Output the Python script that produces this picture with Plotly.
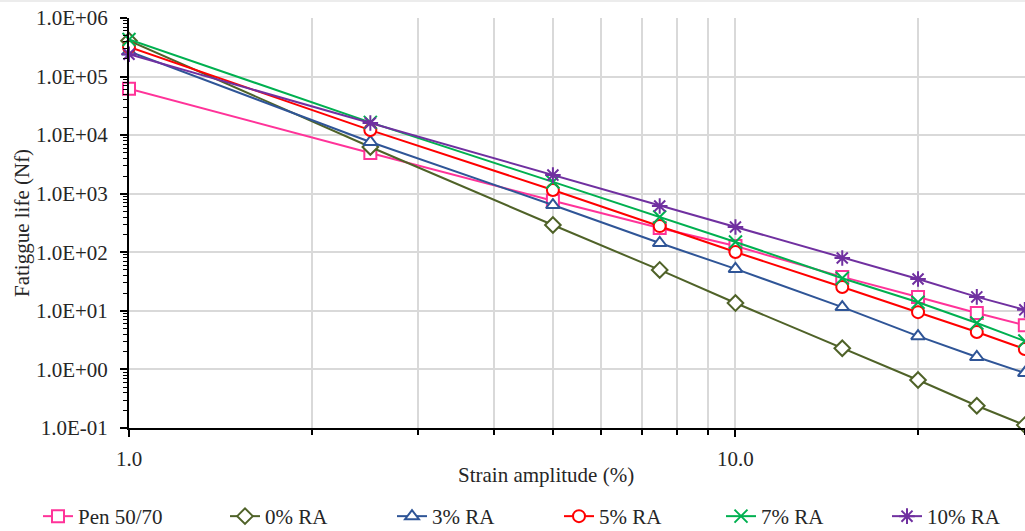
import math
import plotly.graph_objects as go

# ---- data ----
strain = [1, 2.5, 5, 7.5, 10, 15, 20, 25, 30]

pen_50_70 = [62000, 4950, 760, 260, 128, 38, 17.3, 9.2, 5.7]
ra_0 = [410000, 6270, 292, 50, 13.6, 2.3, 0.66, 0.24, 0.112]
ra_3 = [268000, 7640, 640, 144, 52, 11.6, 3.7, 1.63, 0.87]
ra_5 = [320000, 12200, 1157, 280, 101, 25.5, 9.5, 4.36, 2.23]
ra_7 = [430000, 16500, 1590, 400, 150, 36, 14, 6.2, 3.05]
ra_10 = [240000, 16100, 2080, 617, 270, 80, 35, 17.3, 10.4]

series_names = ["Pen 50/70", "0% RA", "3% RA", "5% RA", "7% RA", "10% RA"]
series_values = [pen_50_70, ra_0, ra_3, ra_5, ra_7, ra_10]

y_tick_vals = [1e-1, 1e0, 1e1, 1e2, 1e3, 1e4, 1e5, 1e6]
y_tick_text = ["1.0E-01", "1.0E+00", "1.0E+01", "1.0E+02", "1.0E+03", "1.0E+04", "1.0E+05", "1.0E+06"]
x_tick_vals = [1, 10]
x_tick_text = ["1.0", "10.0"]
x_minor_vals = [2, 3, 4, 5, 6, 7, 8, 9, 20, 30]
y_minor_vals = [m * 10 ** e for e in range(-1, 6) for m in range(2, 10)]

# ---- styles ----
colors = ["#FF3399", "#4F6228", "#2F5597", "#FF0000", "#00B050", "#7030A0"]
symbols = ["square", "diamond", "triangle-up", "circle", "x-thin-open", "asterisk-open"]
legend_px = [38, 225, 392, 559, 721, 887]   # left pixel of each legend entry
FONT = "Liberation Serif"
TXT = "#262626"

# figure is a little taller than the window; the bottom edge is cropped like the reference
W, H = 1025, 537
L, R, T = 129, 0, 18
PW, PH = W - L - R, 410
B = H - T - PH

fig = go.Figure()
legend_layout = {}
for i, (name, vals, c, s) in enumerate(zip(series_names, series_values, colors, symbols)):
    open_sym = s.endswith("-open")
    lg = "legend" if i == 0 else f"legend{i + 1}"
    fig.add_trace(go.Scatter(
        x=strain, y=vals, name=name, mode="lines+markers", legend=lg,
        line=dict(color=c, width=2),
        marker=dict(symbol=s, size=12 if not open_sym else 13,
                    color=c if open_sym else "white",
                    line=dict(color=c, width=2)),
        cliponaxis=False,
    ))
    legend_layout[lg] = dict(
        orientation="h", x=(legend_px[i] - L) / PW, xanchor="left",
        y=(T + PH - H) / PH, yanchor="bottom",
        font=dict(family=FONT, size=21, color=TXT),
        bgcolor="rgba(0,0,0,0)", itemclick=False, itemdoubleclick=False,
    )

fig.update_layout(
    width=W, height=H,
    margin=dict(l=L, r=R, t=T, b=B, pad=0),
    paper_bgcolor="white", plot_bgcolor="white",
    font=dict(family=FONT, size=21, color=TXT),
    showlegend=True,
    xaxis=dict(type="log", range=[0, math.log10(30.02)], automargin=False,
               tickmode="array", tickvals=x_tick_vals, ticktext=x_tick_text,
               tickfont=dict(family=FONT, size=21, color=TXT),
               showline=True, linecolor="black", linewidth=2,
               ticks="outside", ticklen=7, tickwidth=1.5, tickcolor="black",
               showgrid=True, gridcolor="#D9D9D9", gridwidth=1.5,
               zeroline=False, ticklabelstandoff=4,
               minor=dict(tickmode="array", tickvals=x_minor_vals, ticks="outside",
                          ticklen=5, tickwidth=1.5, tickcolor="black",
                          showgrid=True, gridcolor="#D9D9D9", gridwidth=1.5)),
    yaxis=dict(type="log", range=[-1, 6], automargin=False,
               tickmode="array", tickvals=y_tick_vals, ticktext=y_tick_text,
               tickfont=dict(family=FONT, size=21, color=TXT),
               showline=True, linecolor="black", linewidth=2,
               ticks="outside", ticklen=7, tickwidth=1.5, tickcolor="black",
               showgrid=True, gridcolor="#D9D9D9", gridwidth=1.5,
               zeroline=False, ticklabelstandoff=8,
               minor=dict(tickmode="array", tickvals=y_minor_vals, ticks="outside",
                          ticklen=4, tickwidth=1.2, tickcolor="black", showgrid=False)),
    annotations=[
        dict(text="Strain amplitude (%)", xref="paper", yref="paper",
             x=(546 - L) / PW, y=(T + PH - 475) / PH, xanchor="center", yanchor="middle",
             showarrow=False, font=dict(family=FONT, size=21, color=TXT)),
        dict(text="Fatiggue life (Nf)", xref="paper", yref="paper",
             x=(22 - L) / PW, y=0.5, xanchor="center", yanchor="middle", textangle=-90,
             showarrow=False, font=dict(family=FONT, size=21, color=TXT)),
    ],
    shapes=[dict(type="line", xref="paper", yref="paper",
                 x0=-L / PW, x1=1, y0=1 + (T - 1) / PH, y1=1 + (T - 1) / PH,
                 line=dict(color="#E6E6E6", width=1.5))],
    **legend_layout,
)

fig.write_html("out.html", config={"displayModeBar": False},
               post_script="document.body.style.margin='0';document.body.style.overflow='hidden';")
